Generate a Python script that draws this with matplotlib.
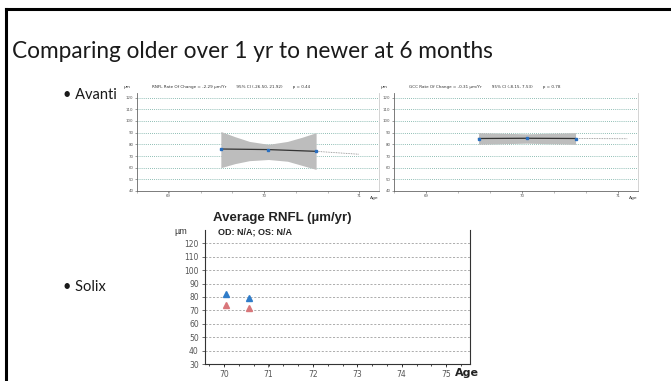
import numpy as np
import matplotlib.pyplot as plt
from matplotlib.lines import Line2D

W, H = 671, 381

# Avanti RNFL (left panel)
rnfl_age = [69.55, 70.05, 70.55]
rnfl_val = [76.0, 75.5, 74.0]
rnfl_band_age = [69.55, 69.7, 69.85, 70.05, 70.25, 70.4, 70.55]
rnfl_band_hi = [91.0, 86.5, 82.5, 80.0, 82.5, 86.0, 90.0]
rnfl_band_lo = [60.0, 63.5, 66.0, 67.0, 65.5, 62.0, 58.5]
rnfl_proj_age = [70.55, 71.0]
rnfl_proj_val = [74.0, 71.5]

# Avanti GCC (right panel)
gcc_age = [69.55, 70.05, 70.56]
gcc_val = [85.0, 85.2, 85.0]
gcc_band_age = [69.55, 70.05, 70.56]
gcc_band_hi = [90.0, 89.0, 90.0]
gcc_band_lo = [80.0, 81.0, 80.0]
gcc_proj_age = [70.56, 71.1]
gcc_proj_val = [85.0, 84.8]

# Solix average RNFL
solix_age = [70.05, 70.55]
solix_od = [82.0, 79.5]
solix_os = [74.0, 72.0]

avanti_yticks = [40, 50, 60, 70, 80, 90, 100, 110, 120]
avanti_xticks = [69, 70, 71]
solix_yticks = [30, 40, 50, 60, 70, 80, 90, 100, 110, 120]
solix_xticks = [70, 71, 72, 73, 74, 75]


def px(x0, y0, x1, y1):
    return [x0 / W, 1 - y1 / H, (x1 - x0) / W, (y1 - y0) / H]


fig = plt.figure(figsize=(W / 100, H / 100), dpi=100)
fig.patch.set_facecolor('white')

# slide border
fig.add_artist(Line2D([6 / W, 6 / W], [0, 1 - 9 / H], color='black', lw=2.2))
fig.add_artist(Line2D([6 / W, 1], [1 - 9 / H, 1 - 9 / H], color='black', lw=2.2))

fig.text(12 / W, 1 - 52 / H, 'Comparing older over 1 yr to newer at 6 months',
         fontsize=16.3, family='Lato', va='center', ha='left', color='#1a1a1a')
fig.text(63 / W, 1 - 95 / H, '\u2022 Avanti', fontsize=10.5, family='Lato',
         va='center', ha='left', color='#1a1a1a')
fig.text(63 / W, 1 - 287 / H, '\u2022 Solix', fontsize=10.5, family='Lato',
         va='center', ha='left', color='#1a1a1a')


def avanti_panel(rect, title, age, val, b_age, b_hi, b_lo, p_age, p_val):
    ax = fig.add_axes(rect)
    ax.set_xlim(68.78, 71.21)
    ax.set_ylim(40, 124)
    ax.fill_between(b_age, b_lo, b_hi, color='#bdbdbd', lw=0, zorder=1)
    ax.plot(p_age, p_val, color='#888888', lw=0.6, ls=(0, (1, 1)), zorder=2)
    ax.plot(age, val, color='#333333', lw=0.9, zorder=3)
    ax.plot(age, val, 's', color='#2a6fc0', ms=1.6, zorder=4)
    for y in avanti_yticks[1:]:
        ax.axhline(y, color='#6aa99c', lw=0.6, ls=(0, (1, 1.5)), zorder=0)
    ax.set_yticks(avanti_yticks)
    ax.set_xticks(avanti_xticks)
    ax.set_xticks(np.arange(68.67, 71.3, 1 / 3), minor=True)
    ax.tick_params(labelsize=2.8, colors='#555555', length=1.5, width=0.4, pad=1)
    ax.tick_params(which='minor', length=1.2, width=0.4, colors='#888888')
    ax.set_yticklabels([str(v) for v in avanti_yticks])
    ax.set_xticklabels([str(v) for v in avanti_xticks])
    ax.spines['top'].set_visible(False)
    ax.spines['left'].set_color('#666666')
    ax.spines['bottom'].set_color('#666666')
    ax.spines['right'].set_color('#cccccc')
    for s in ['left', 'bottom', 'right']:
        ax.spines[s].set_linewidth(0.6)
    ax.text(-0.04, 1.06, '\u00b5m', transform=ax.transAxes, fontsize=3.2,
            ha='center', va='center', color='#333333')
    ax.text(1.0, -0.05, 'Age', transform=ax.transAxes, fontsize=3.2,
            ha='right', va='top', color='#333333')
    ax.text(0.06, 1.06, title, transform=ax.transAxes, fontsize=3.0,
            ha='left', va='center', color='#333333')
    return ax


avanti_panel(px(137, 93, 379, 191),
             'RNFL Rate Of Change = -2.29 \u00b5m/Yr        95% CI (-26.50, 21.92)        p = 0.44',
             rnfl_age, rnfl_val, rnfl_band_age, rnfl_band_hi, rnfl_band_lo,
             rnfl_proj_age, rnfl_proj_val)
avanti_panel(px(394, 93, 638, 191),
             'GCC Rate Of Change = -0.31 \u00b5m/Yr        95% CI (-8.15, 7.53)        p = 0.78',
             gcc_age, gcc_val, gcc_band_age, gcc_band_hi, gcc_band_lo,
             gcc_proj_age, gcc_proj_val)

# Solix panel
ax = fig.add_axes(px(205, 230, 470, 364))
ax.set_xlim(69.57, 75.54)
ax.set_ylim(30, 130)
for y in solix_yticks[1:]:
    ax.axhline(y, color='#a0a0a0', lw=0.6, ls=(0, (2.5, 2)), zorder=0)
ax.plot(solix_age, solix_od, '^', color='#2f7cc9', ms=4.5, zorder=3)
ax.plot(solix_age, solix_os, '^', color='#d9767a', ms=4.5, zorder=3)
ax.set_yticks(solix_yticks)
ax.set_xticks(solix_xticks)
ax.set_xticks(np.arange(69.67, 75.6, 1 / 3), minor=True)
ax.tick_params(labelsize=5.5, colors='#555555', length=2.5, width=0.6, pad=2)
ax.tick_params(which='minor', length=1.5, width=0.5)
ax.spines['top'].set_visible(False)
for s in ['left', 'bottom', 'right']:
    ax.spines[s].set_color('#333333')
    ax.spines[s].set_linewidth(0.8)
ax.text(-0.09, 0.99, '\u00b5m', transform=ax.transAxes, fontsize=6.5,
        ha='center', va='center', color='#333333', family='Liberation Sans')
ax.text(0.943, -0.065, 'Age', transform=ax.transAxes, fontsize=8, fontweight='bold',
        ha='left', va='center', color='#222222', family='Liberation Sans Narrow')
ax.text(0.05, 0.985, 'OD: N/A; OS: N/A', transform=ax.transAxes, fontsize=6.5,
        fontweight='bold', ha='left', va='center', color='#222222',
        family='Liberation Sans')
fig.text(213 / W, 1 - 218 / H, 'Average RNFL (\u00b5m/yr)', fontsize=9.5,
         fontweight='bold', ha='left', va='center', color='#222222',
         family='Liberation Sans')

plt.savefig('out.png', dpi=100, facecolor='white')
